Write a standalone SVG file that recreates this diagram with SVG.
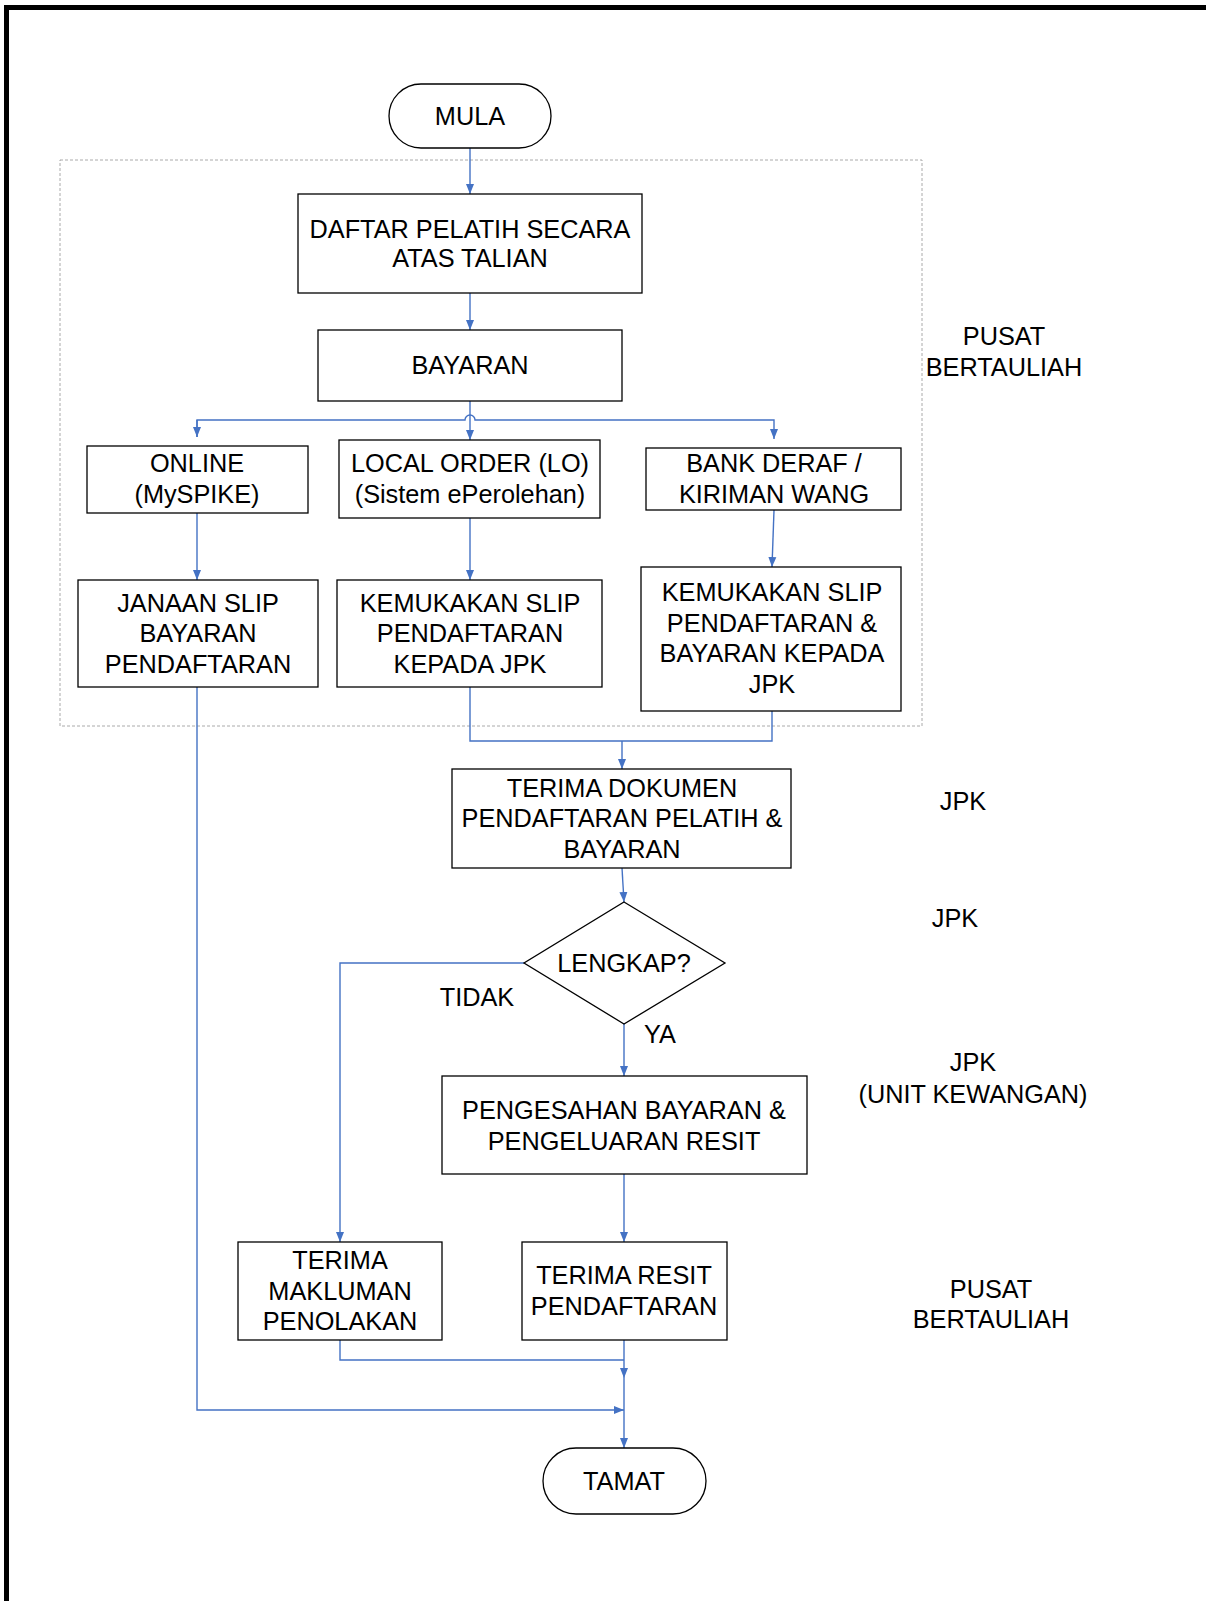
<svg xmlns="http://www.w3.org/2000/svg" width="1206" height="1601" viewBox="0 0 1206 1601">
<style>
.n{fill:#fff;stroke:#000;stroke-width:1.3}
.t{font-family:"Liberation Sans",Arial,sans-serif;font-size:25.3px;fill:#000;text-anchor:middle}
.c{fill:none;stroke:#4472C4;stroke-width:1.4}
</style>
<defs>
<marker id="a" viewBox="0 0 10 10" refX="10" refY="5" markerWidth="10" markerHeight="10" markerUnits="userSpaceOnUse" orient="auto">
<path d="M0,1 L10,5 L0,9 Z" fill="#4472C4"/>
</marker>
</defs>
<rect width="1206" height="1601" fill="#fff"/>
<path d="M6.5,1601 V7.5 H1206" fill="none" stroke="#000" stroke-width="5"/>
<rect x="60" y="160" width="862" height="566" fill="none" stroke="#aaa" stroke-width="1" stroke-dasharray="3,2"/>

<g id="connectors">
<path class="c" d="M470,148 V194" marker-end="url(#a)"/>
<path class="c" d="M470,293 V330" marker-end="url(#a)"/>
<path class="c" d="M470,401 V440" marker-end="url(#a)"/>
<path class="c" d="M197,437 V420 H465 A5,5 0 0 1 475,420 H774 V439" marker-end="url(#a)"/>
<path class="c" d="M197,420 V437" marker-end="url(#a)"/>
<path class="c" d="M197,513 V580" marker-end="url(#a)"/>
<path class="c" d="M470,518 V580" marker-end="url(#a)"/>
<path class="c" d="M774,510 L772,567" marker-end="url(#a)"/>
<path class="c" d="M470,687 V741 H772 V711"/>
<path class="c" d="M622,741 V769" marker-end="url(#a)"/>
<path class="c" d="M622,868 L624,902" marker-end="url(#a)"/>
<path class="c" d="M524,963 H340 V1242" marker-end="url(#a)"/>
<path class="c" d="M624,1024 V1076" marker-end="url(#a)"/>
<path class="c" d="M624,1174 V1242" marker-end="url(#a)"/>
<path class="c" d="M340,1340 V1360 H624"/>
<path class="c" d="M624,1340 V1378" marker-end="url(#a)"/>
<path class="c" d="M624,1378 V1448" marker-end="url(#a)"/>
<path class="c" d="M197,687 V1410 H624" marker-end="url(#a)"/>
</g>

<g id="mula"><rect class="n" x="389" y="84" width="162" height="64" rx="32"/><text class="t" x="470" y="125">MULA</text></g>
<g id="daftar"><rect class="n" x="298" y="194" width="344" height="99"/><text class="t" x="470" y="238">DAFTAR PELATIH SECARA</text><text class="t" x="470" y="267">ATAS TALIAN</text></g>
<g id="bayaran"><rect class="n" x="318" y="330" width="304" height="71"/><text class="t" x="470" y="374">BAYARAN</text></g>
<g id="online"><rect class="n" x="87" y="446" width="221" height="67"/><text class="t" x="197" y="472">ONLINE</text><text class="t" x="197" y="503">(MySPIKE)</text></g>
<g id="lo"><rect class="n" x="339" y="440" width="261" height="78"/><text class="t" x="470" y="472">LOCAL ORDER (LO)</text><text class="t" x="470" y="503">(Sistem ePerolehan)</text></g>
<g id="bank"><rect class="n" x="646" y="448" width="255" height="62"/><text class="t" x="774" y="472">BANK DERAF /</text><text class="t" x="774" y="503">KIRIMAN WANG</text></g>
<g id="janaan"><rect class="n" x="78" y="580" width="240" height="107"/><text class="t" x="198" y="612">JANAAN SLIP</text><text class="t" x="198" y="642">BAYARAN</text><text class="t" x="198" y="673">PENDAFTARAN</text></g>
<g id="kemukakan1"><rect class="n" x="337" y="580" width="265" height="107"/><text class="t" x="470" y="612">KEMUKAKAN SLIP</text><text class="t" x="470" y="642">PENDAFTARAN</text><text class="t" x="470" y="673">KEPADA JPK</text></g>
<g id="kemukakan2"><rect class="n" x="641" y="567" width="260" height="144"/><text class="t" x="772" y="601">KEMUKAKAN SLIP</text><text class="t" x="772" y="632">PENDAFTARAN &amp;</text><text class="t" x="772" y="662">BAYARAN KEPADA</text><text class="t" x="772" y="693">JPK</text></g>
<g id="terimadok"><rect class="n" x="452" y="769" width="339" height="99"/><text class="t" x="622" y="797">TERIMA DOKUMEN</text><text class="t" x="622" y="827">PENDAFTARAN PELATIH &amp;</text><text class="t" x="622" y="858">BAYARAN</text></g>
<g id="lengkap"><polygon class="n" points="624,902 725,963 624,1024 524,963"/><text class="t" x="624" y="972">LENGKAP?</text></g>
<g id="pengesahan"><rect class="n" x="442" y="1076" width="365" height="98"/><text class="t" x="624" y="1119">PENGESAHAN BAYARAN &amp;</text><text class="t" x="624" y="1150">PENGELUARAN RESIT</text></g>
<g id="makluman"><rect class="n" x="238" y="1242" width="204" height="98"/><text class="t" x="340" y="1269">TERIMA</text><text class="t" x="340" y="1300">MAKLUMAN</text><text class="t" x="340" y="1330">PENOLAKAN</text></g>
<g id="resit"><rect class="n" x="522" y="1242" width="205" height="98"/><text class="t" x="624" y="1284">TERIMA RESIT</text><text class="t" x="624" y="1315">PENDAFTARAN</text></g>
<g id="tamat"><rect class="n" x="543" y="1448" width="163" height="66" rx="33"/><text class="t" x="624" y="1490">TAMAT</text></g>

<g id="labels">
<text class="t" x="477" y="1006">TIDAK</text>
<text class="t" x="660" y="1043">YA</text>
<text class="t" x="1004" y="345">PUSAT</text>
<text class="t" x="1004" y="376">BERTAULIAH</text>
<text class="t" x="963" y="810">JPK</text>
<text class="t" x="955" y="927">JPK</text>
<text class="t" x="973" y="1071">JPK</text>
<text class="t" x="973" y="1103">(UNIT KEWANGAN)</text>
<text class="t" x="991" y="1298">PUSAT</text>
<text class="t" x="991" y="1328">BERTAULIAH</text>
</g>
</svg>
